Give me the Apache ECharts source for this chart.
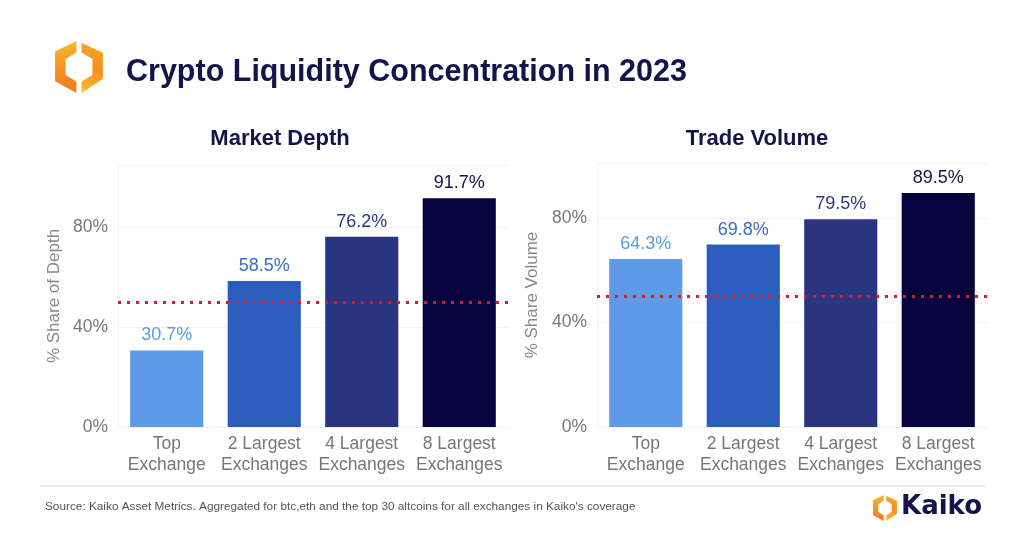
<!DOCTYPE html>
<html>
<head>
<meta charset="utf-8">
<script src="https://cdn.jsdelivr.net/npm/echarts@6/dist/echarts.min.js"></script>
<style>
  html, body { margin: 0; padding: 0; background: #fff; }
  #chart { width: 1024px; height: 550px; }
</style>
</head>
<body>
<div id="chart"></div>
<script>
const categories = ['Top\nExchange', '2 Largest\nExchanges', '4 Largest\nExchanges', '8 Largest\nExchanges']
const depthShare = [30.7, 58.5, 76.2, 91.7]
const volumeShare = [64.3, 69.8, 79.5, 89.5]
const threshold = 50

const barColors = ['#5f9ae6', '#2b5dbf', '#29357f', '#06033f']
const labelColors = ['#5b9be0', '#3b6cc6', '#2c3783', '#15144a']
const FONT = '"Liberation Sans", Arial, sans-serif'
const NAVY = '#15134a'

let chart = echarts.init(document.getElementById('chart'))

// hexagon ring cut in two halves with small gaps at top and bottom
function logoPieces(cx, cy, R) {
    let r = R * 0.56, w = 0.92, g = R * 0.1
    let left = [
        [cx - g, cy - R], [cx - w * R, cy - R * 0.6], [cx - w * R, cy + R * 0.55], [cx - g, cy + R],
        [cx - g, cy + r], [cx - w * r, cy + r * 0.55], [cx - w * r, cy - r * 0.55], [cx - g, cy - r]
    ]
    let right = [
        [cx + g, cy - R * 0.92], [cx + w * R, cy - R * 0.55], [cx + w * R, cy + R * 0.45], [cx + g, cy + R],
        [cx + g, cy + r], [cx + w * r, cy + r * 0.55], [cx + w * r, cy - r * 0.55], [cx + g, cy - r]
    ]
    let fillL = new echarts.graphic.LinearGradient(0.3, 0, 0.4, 1, [
        { offset: 0, color: '#fdb931' }, { offset: 0.45, color: '#f8951f' }, { offset: 1, color: '#f47a20' }
    ])
    let fillR = new echarts.graphic.LinearGradient(1, 0, 0, 1, [
        { offset: 0, color: '#fba928' }, { offset: 0.5, color: '#f79020' }, { offset: 1, color: '#fdbf33' }
    ])
    return [
        { type: 'polygon', shape: { points: left }, style: { fill: fillL } },
        { type: 'polygon', shape: { points: right }, style: { fill: fillR } }
    ]
}

function barSeries(values, xIdx) {
    return {
        type: 'bar',
        xAxisIndex: xIdx,
        yAxisIndex: xIdx,
        barCategoryGap: '25%',
        data: values.map((v, i) => ({
            value: v,
            itemStyle: { color: barColors[i] },
            label: { color: labelColors[i] }
        })),
        label: {
            show: true,
            position: 'top',
            distance: 6,
            fontFamily: FONT,
            fontSize: 18,
            formatter: p => p.value.toFixed(1) + '%'
        },
        markLine: {
            silent: true,
            symbol: 'none',
            label: { show: false },
            lineStyle: { color: '#d21f2b', width: 3, type: [3, 6] },
            data: [{ yAxis: threshold }]
        }
    }
}

function xAxisCfg(idx) {
    return {
        type: 'category',
        gridIndex: idx,
        data: categories,
        axisTick: { show: false },
        axisLine: { lineStyle: { color: '#f0f0f0' } },
        axisLabel: {
            interval: 0,
            color: '#777',
            fontFamily: FONT,
            fontSize: 17.5,
            lineHeight: 21,
            margin: 7
        }
    }
}

function yAxisCfg(idx, max, name, gap) {
    return {
        type: 'value',
        gridIndex: idx,
        min: 0,
        max: max,
        interval: 40,
        name: name,
        nameLocation: 'middle',
        nameGap: gap,
        nameTextStyle: { color: '#888', fontFamily: FONT, fontSize: 17 },
        axisLine: { show: true, lineStyle: { color: '#f2f2f2' } },
        axisTick: { show: false },
        splitLine: { lineStyle: { color: '#f2f2f2' } },
        axisLabel: {
            color: '#777',
            fontFamily: FONT,
            fontSize: 17.5,
            margin: 10,
            showMaxLabel: false,
            formatter: v => v + '%'
        }
    }
}

chart.setOption({
    backgroundColor: '#fff',
    animation: false,
    title: [
        {
            text: 'Crypto Liquidity Concentration in 2023',
            left: 121, top: 52,
            textStyle: { color: NAVY, fontFamily: FONT, fontWeight: 'bold', fontSize: 30.5 }
        },
        {
            text: 'Market Depth',
            left: 275, top: 123, textAlign: 'center',
            textStyle: { color: NAVY, fontFamily: FONT, fontWeight: 'bold', fontSize: 22 }
        },
        {
            text: 'Trade Volume',
            left: 752, top: 123, textAlign: 'center',
            textStyle: { color: NAVY, fontFamily: FONT, fontWeight: 'bold', fontSize: 22 }
        }
    ],
    grid: [
        { left: 118, right: 516, top: 165, bottom: 123 },
        { left: 597, right: 37, top: 163, bottom: 123 }
    ],
    xAxis: [xAxisCfg(0), xAxisCfg(1)],
    yAxis: [yAxisCfg(0, 105, '% Share of Depth', 55), yAxisCfg(1, 101, '% Share Volume', 56)],
    series: [barSeries(depthShare, 0), barSeries(volumeShare, 1)],
    graphic: [
        ...logoPieces(79, 67, 26),
        ...logoPieces(885, 508, 13),
        {
            type: 'line',
            shape: { x1: 40, y1: 486, x2: 985, y2: 486 },
            style: { stroke: '#d6d6d6', lineWidth: 1 }
        },
        {
            type: 'text',
            left: 45, top: 501,
            style: {
                text: "Source: Kaiko Asset Metrics. Aggregated for btc,eth and the top 30 altcoins for all exchanges in Kaiko's coverage",
                fill: '#555', fontFamily: FONT, fontSize: 11.8
            }
        },
        {
            type: 'text',
            left: 901, top: 494,
            style: {
                text: 'Kaiko',
                fill: NAVY, fontFamily: '"DejaVu Sans", sans-serif', fontWeight: 'bold', fontSize: 26
            }
        }
    ]
})
</script>
</body>
</html>
